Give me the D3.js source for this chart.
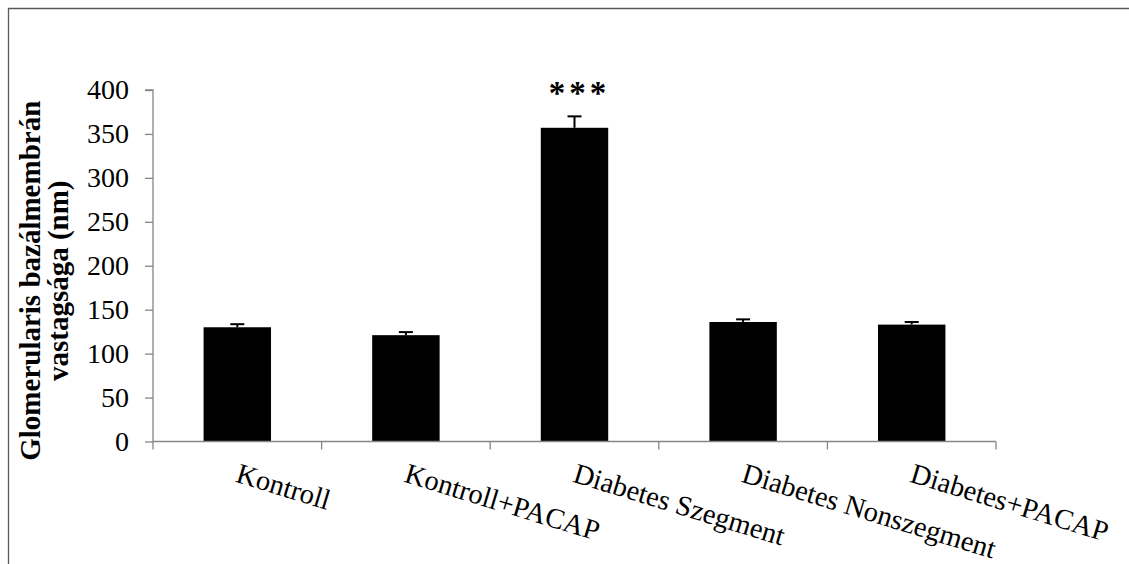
<!DOCTYPE html>
<html>
<head>
<meta charset="utf-8">
<script src="https://cdn.jsdelivr.net/npm/d3@7"></script>
<style>
  body { margin: 0; background: #fff; }
  svg { display: block; font-family: "Liberation Serif", "DejaVu Serif", serif; }
</style>
</head>
<body>
<svg id="vis"></svg>
<script>
const width = 1129;
const height = 564;

// data
const categories = ["Kontroll", "Kontroll+PACAP", "Diabetes Szegment", "Diabetes Nonszegment", "Diabetes+PACAP"];
const values = [130, 121, 357, 136, 133];
const errors = [3.5, 3.5, 13, 3, 3];
const marks = ["", "", "***", "", ""];
const yTicks = [0, 50, 100, 150, 200, 250, 300, 350, 400];

const margin = { top: 90, right: 133, bottom: 122.5, left: 153 };

const svg = d3.select("#vis")
  .attr("width", width)
  .attr("height", height);

// outer frame (top and left edges visible)
svg.append("path")
  .attr("d", "M8.5," + height + "V8.5H" + width)
  .attr("fill", "none")
  .attr("stroke", "#595959")
  .attr("stroke-width", 1.3);

const x = d3.scaleBand()
  .domain(categories)
  .range([margin.left, width - margin.right])
  .paddingInner(0.6)
  .paddingOuter(0.3);

const y = d3.scaleLinear()
  .domain([0, 400])
  .range([height - margin.bottom, margin.top]);

const g = svg.append("g");

// bars
g.selectAll("rect.bar")
  .data(values)
  .enter()
  .append("rect")
  .attr("class", "bar")
  .attr("x", (d, i) => x(categories[i]))
  .attr("y", d => y(d))
  .attr("width", x.bandwidth())
  .attr("height", d => y(0) - y(d))
  .attr("fill", "#000");

// error bars (upper only)
const err = g.selectAll("g.err")
  .data(values)
  .enter()
  .append("g")
  .attr("class", "err")
  .attr("transform", (d, i) => "translate(" + (x(categories[i]) + x.bandwidth() / 2) + ",0)");

err.append("line")
  .attr("y1", d => y(d))
  .attr("y2", (d, i) => y(d + errors[i]))
  .attr("stroke", "#000")
  .attr("stroke-width", 2);

err.append("line")
  .attr("x1", -7)
  .attr("x2", 7)
  .attr("y1", (d, i) => y(d + errors[i]))
  .attr("y2", (d, i) => y(d + errors[i]))
  .attr("stroke", "#000")
  .attr("stroke-width", 2);

// significance marks
g.selectAll("text.mark")
  .data(values)
  .enter()
  .append("text")
  .attr("class", "mark")
  .attr("x", (d, i) => x(categories[i]) + x.bandwidth() / 2 + 5)
  .attr("y", (d, i) => y(d + errors[i]) - 12)
  .attr("text-anchor", "middle")
  .style("font-size", "33px")
  .style("font-weight", "bold")
  .style("letter-spacing", "4px")
  .text((d, i) => marks[i]);

// y axis
const yAxis = d3.axisLeft(y)
  .tickValues(yTicks)
  .tickSize(8)
  .tickPadding(16);

const ya = svg.append("g")
  .attr("transform", "translate(" + margin.left + ",0)")
  .call(yAxis);
ya.select(".domain").attr("stroke", "#868686").attr("stroke-width", 1.3)
  .attr("d", "M-8," + y(400) + "H0V" + y(0));
ya.selectAll(".tick line").attr("stroke", "#868686").attr("stroke-width", 1.3);
ya.selectAll(".tick text")
  .style("font-size", "28px")
  .style("font-family", "Liberation Serif")
  .attr("fill", "#000");

// x axis: line with ticks at category boundaries
const step = x.step();
const boundaries = d3.range(categories.length + 1).map(i => margin.left + i * step);
svg.append("line")
  .attr("x1", margin.left)
  .attr("x2", width - margin.right)
  .attr("y1", y(0))
  .attr("y2", y(0))
  .attr("stroke", "#868686")
  .attr("stroke-width", 1.3);
svg.selectAll("line.xtick")
  .data(boundaries)
  .enter()
  .append("line")
  .attr("class", "xtick")
  .attr("x1", d => d)
  .attr("x2", d => d)
  .attr("y1", y(0))
  .attr("y2", y(0) + 8)
  .attr("stroke", "#868686")
  .attr("stroke-width", 1.3);

// rotated category labels
svg.selectAll("text.xlabel")
  .data(categories)
  .enter()
  .append("text")
  .attr("class", "xlabel")
  .attr("transform", d => "translate(" + (x(d) + x.bandwidth() / 2 + 3) + "," + (y(0) + 21) + ") rotate(17)")
  .attr("dy", "0.7em")
  .style("font-size", "28.5px")
  .text(d => d);

// y axis title
const yTitle = svg.append("text")
  .attr("transform", "translate(40," + ((y(0) + y(400)) / 2 + 15) + ") rotate(-90)")
  .attr("text-anchor", "middle")
  .style("font-size", "29px")
  .style("font-weight", "bold");
yTitle.append("tspan").attr("x", 0).attr("dy", 0).text("Glomerularis bazálmembrán");
yTitle.append("tspan").attr("x", 0).attr("dy", "0.95em").text("vastagsága (nm)");
</script>
</body>
</html>
